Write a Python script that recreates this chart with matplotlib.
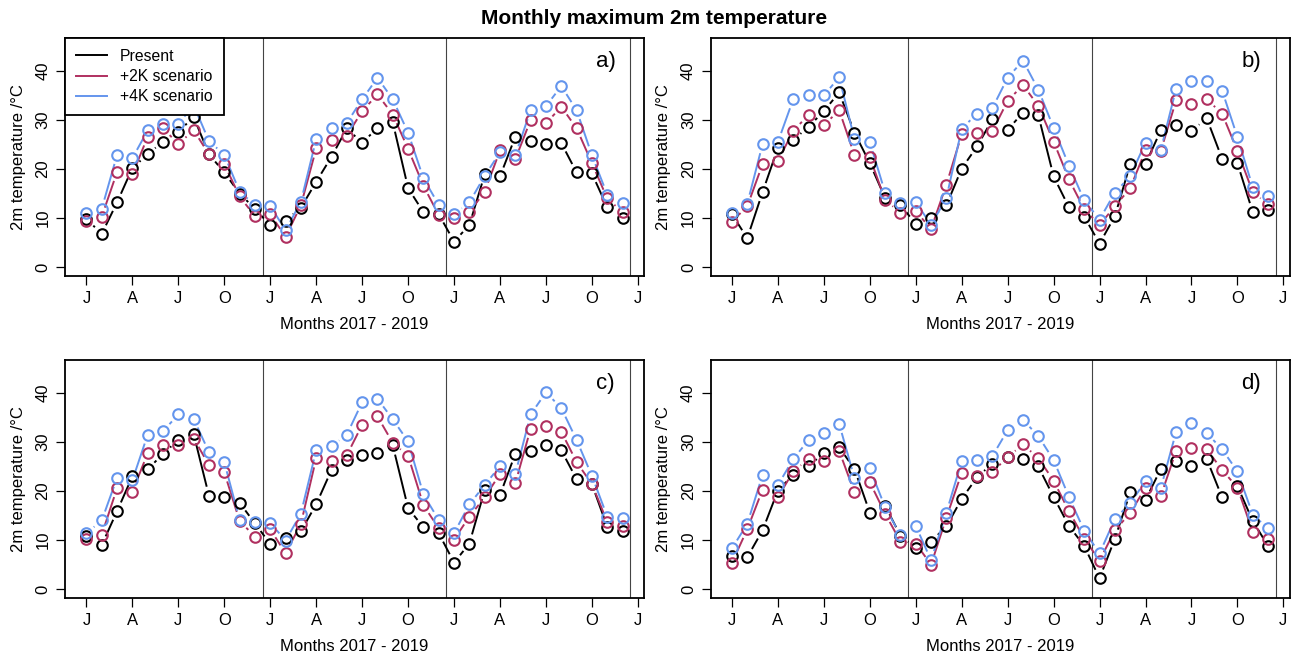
import numpy as np
import matplotlib.pyplot as plt
from matplotlib.collections import LineCollection
from matplotlib.lines import Line2D

plt.rcParams['font.family'] = ['Liberation Sans', 'DejaVu Sans']

months = np.arange(1, 37)
tick_pos = np.arange(1, 38, 3)
tick_lab = ['J', 'A', 'J', 'O'] * 3 + ['J']
year_breaks = [12.5, 24.5, 36.5]

series_names = ['Present', '+2K scenario', '+4K scenario']
series_colors = ['black', '#B03060', '#6495ED']

# panel a)
a_present = [9.8, 6.8, 13.2, 20.2, 23.0, 25.6, 27.6, 30.6, 23.0, 19.3, 15.0, 11.9,
             8.5, 9.5, 12.1, 17.4, 22.5, 28.3, 25.3, 28.4, 29.5, 16.1, 11.2, 10.8,
             5.2, 8.6, 18.9, 18.5, 26.6, 25.7, 25.2, 25.3, 19.3, 19.1, 12.2, 10.0]
a_2k = [9.5, 10.3, 19.4, 18.9, 26.6, 28.3, 25.1, 27.9, 23.0, 21.0, 14.4, 10.4,
        10.8, 6.2, 12.6, 24.2, 26.0, 26.8, 31.8, 35.2, 31.1, 24.1, 16.6, 10.6,
        10.0, 11.2, 15.4, 23.8, 22.0, 30.0, 29.3, 32.7, 28.3, 21.2, 14.0, 11.2]
a_4k = [11.1, 11.9, 22.9, 22.2, 27.9, 29.1, 29.2, 33.0, 25.7, 22.9, 15.4, 12.7,
        12.5, 7.5, 13.3, 26.1, 28.3, 29.4, 34.2, 38.6, 34.2, 27.4, 18.1, 12.7,
        10.8, 13.2, 18.6, 23.4, 22.8, 32.0, 32.8, 36.9, 32.0, 22.8, 14.8, 13.1]

# panel b)
b_present = [10.8, 5.9, 15.3, 24.3, 25.9, 28.6, 31.8, 35.6, 27.4, 21.2, 14.1, 12.7,
             8.8, 10.1, 12.6, 20.1, 24.6, 30.1, 28.0, 31.5, 31.0, 18.5, 12.2, 10.3,
             4.8, 10.4, 21.0, 21.0, 27.9, 28.9, 27.8, 30.3, 22.1, 21.2, 11.2, 11.6]
b_2k = [9.3, 12.4, 21.0, 21.6, 27.8, 31.0, 28.9, 32.0, 22.8, 22.4, 13.7, 11.1,
        11.4, 7.8, 16.8, 27.1, 27.3, 27.7, 33.9, 37.1, 32.9, 25.6, 17.9, 11.8,
        8.6, 12.4, 16.1, 23.8, 23.7, 34.0, 33.3, 34.2, 31.3, 23.7, 15.3, 12.8]
b_4k = [11.1, 12.9, 25.1, 25.5, 34.2, 35.0, 35.0, 38.7, 26.1, 25.5, 15.2, 13.1,
        13.3, 8.6, 14.1, 28.2, 31.3, 32.4, 38.6, 42.1, 36.2, 28.4, 20.7, 13.6,
        9.7, 15.2, 18.5, 25.4, 23.9, 36.4, 37.9, 37.9, 36.0, 26.5, 16.3, 14.4]

# panel c)
c_present = [10.8, 9.0, 15.9, 23.0, 24.4, 27.6, 30.4, 31.6, 19.0, 18.8, 17.6, 13.4,
             9.2, 10.5, 11.8, 17.3, 24.3, 26.3, 27.4, 27.8, 29.3, 16.5, 12.6, 11.4,
             5.4, 9.3, 20.2, 19.2, 27.6, 28.2, 29.3, 28.3, 22.4, 21.4, 12.7, 11.8]
c_2k = [10.3, 11.1, 20.6, 19.9, 27.7, 29.4, 29.4, 30.7, 25.3, 23.8, 13.9, 10.7,
        12.2, 7.3, 13.3, 26.7, 26.2, 27.3, 33.5, 35.2, 29.8, 27.2, 17.1, 12.4,
        10.1, 14.8, 18.7, 23.5, 21.6, 32.7, 33.3, 32.1, 25.9, 21.4, 13.7, 12.9]
c_4k = [11.4, 14.0, 22.7, 22.2, 31.5, 32.2, 35.6, 34.7, 27.9, 25.9, 14.1, 13.6,
        13.5, 9.9, 15.4, 28.3, 29.1, 31.5, 38.1, 38.8, 34.6, 30.1, 19.3, 14.1,
        11.4, 17.3, 21.2, 25.1, 23.5, 35.6, 40.1, 36.9, 30.4, 23.1, 14.8, 14.4]

# panel d)
d_present = [6.8, 6.5, 12.0, 20.1, 23.3, 25.0, 27.8, 28.9, 24.5, 15.6, 17.0, 10.9,
             8.4, 9.7, 12.8, 18.4, 22.8, 25.6, 27.0, 26.5, 25.0, 18.8, 12.9, 8.8,
             2.2, 10.3, 19.7, 18.2, 24.5, 26.1, 25.0, 26.5, 18.7, 21.0, 13.9, 8.8]
d_2k = [5.4, 12.2, 20.3, 18.7, 24.0, 26.5, 26.2, 28.2, 19.7, 21.8, 15.4, 9.7,
        9.3, 5.0, 14.6, 23.7, 23.0, 23.9, 26.9, 29.5, 26.7, 22.1, 15.9, 10.3,
        5.8, 12.0, 15.5, 20.7, 19.0, 28.2, 28.8, 28.5, 24.3, 20.7, 11.7, 10.3]
d_4k = [8.3, 13.3, 23.3, 21.2, 26.5, 30.4, 31.8, 33.7, 22.6, 24.6, 16.7, 11.0,
        12.9, 5.9, 15.6, 26.1, 26.3, 27.1, 32.4, 34.5, 31.2, 26.3, 18.8, 11.9,
        7.3, 14.3, 17.5, 22.0, 20.6, 32.1, 33.8, 31.8, 28.5, 24.0, 15.2, 12.4]

panels = [('a)', [a_present, a_2k, a_4k]),
          ('b)', [b_present, b_2k, b_4k]),
          ('c)', [c_present, c_2k, c_4k]),
          ('d)', [d_present, d_2k, d_4k])]

W, H = 1303, 658
fig = plt.figure(figsize=(W / 100, H / 100), dpi=100)

# axes boxes in pixels: left, top
boxes = [(65, 38), (710.5, 38), (65, 360), (710.5, 360)]
bw, bh = 579, 237.5


def gapped_line(ax, x, y, color, gap=9.5):
    # R type="b": segments between points, leaving a gap around each point
    pts = ax.transData.transform(np.column_stack([x, y]))
    inv = ax.transData.inverted()
    segs = []
    for p, q in zip(pts[:-1], pts[1:]):
        d = q - p
        L = np.hypot(d[0], d[1])
        if L <= 2 * gap:
            continue
        u = d / L
        segs.append(inv.transform(np.array([p + u * gap, q - u * gap])))
    ax.add_collection(LineCollection(segs, colors=color, linewidths=1.4, zorder=2))


for (lab, data), (left, top) in zip(panels, boxes):
    ax = fig.add_axes([left / W, 1 - (top + bh) / H, bw / W, bh / H])
    ax.set_xlim(-0.4, 37.4)
    ax.set_ylim(-1.7, 46.7)
    for s in ax.spines.values():
        s.set_linewidth(1.3)
    for xb in year_breaks:
        ax.axvline(xb, color='#444444', lw=0.8, zorder=1)
    for vals, col in zip(data, series_colors):
        gapped_line(ax, months, vals, col)
        ax.plot(months, vals, 'o', ms=7.6, mfc='none', mec=col, mew=1.5, zorder=3)
    ax.set_xticks(tick_pos)
    ax.set_xticklabels(tick_lab)
    ax.set_yticks([0, 10, 20, 30, 40])
    ax.tick_params(axis='both', length=6.5, width=0.9, labelsize=12, pad=4)
    ax.tick_params(axis='x', pad=5)
    for t in ax.get_yticklabels():
        t.set_rotation(90)
        t.set_va('center')
    ax.set_xlabel('Months 2017 - 2019', fontsize=12, labelpad=7.5)
    ax.set_ylabel('2m temperature /\u00b0C', fontsize=12, labelpad=7)
    ax.text(0.934, 0.9, lab, transform=ax.transAxes, fontsize=16,
            ha='center', va='center')
    if lab == 'a)':
        handles = [Line2D([], [], color=c, lw=1.4) for c in series_colors]
        leg = ax.legend(handles, series_names, loc='upper left', fontsize=11.3,
                        borderaxespad=0, fancybox=False, framealpha=1,
                        edgecolor='black', handlelength=2.0, handletextpad=0.8,
                        labelspacing=0.32, borderpad=0.7)
        leg.get_frame().set_linewidth(1.3)
        leg.set_zorder(10)

fig.text(0.502, 1 - 19 / H, 'Monthly maximum 2m temperature', fontsize=15,
         fontweight='bold', ha='center', va='center')

fig.savefig('out.png', dpi=100)
